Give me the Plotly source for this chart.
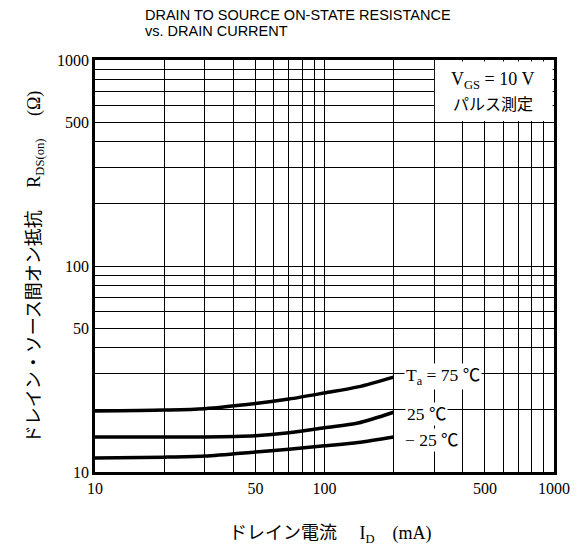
import math
import plotly.graph_objects as go

# ---- data ----
current_ma = [10, 20, 30, 50, 70, 100, 140, 200]
r_ta75 = [19.8, 20.0, 20.3, 21.5, 22.6, 24.2, 25.9, 28.9]
r_ta25 = [14.8, 14.8, 14.8, 15.0, 15.5, 16.4, 17.3, 19.5]
r_tam25 = [11.7, 11.8, 11.95, 12.5, 12.9, 13.4, 13.9, 14.8]

x_grid = [10, 20, 30, 40, 50, 60, 70, 80, 90, 100, 200, 300, 400, 500, 600, 700, 800, 900, 1000]
y_grid = [10, 20, 30, 40, 50, 60, 70, 80, 90, 100, 200, 300, 400, 500, 600, 700, 800, 900, 1000]
x_labeled = [10, 50, 100, 500, 1000]
y_labeled = [10, 50, 100, 500, 1000]

x_minor = [v for v in x_grid if v not in x_labeled]
y_minor = [v for v in y_grid if v not in y_labeled]

SERIF = "Liberation Serif, Noto Serif CJK JP, Noto Sans CJK JP, serif"
CJK = "Liberation Serif, Noto Sans CJK JP, serif"

fig = go.Figure()
for ys in (r_ta75, r_ta25, r_tam25):
    fig.add_trace(go.Scatter(
        x=current_ma, y=ys, mode="lines",
        line=dict(color="black", width=3.5, shape="spline", smoothing=0.8),
        showlegend=False, hoverinfo="skip"))

GW = 1.4
axis_common = dict(
    type="log", range=[1, 3], showgrid=True, gridcolor="black", gridwidth=GW,
    showline=True, linecolor="black", linewidth=2.5, mirror=True,
    ticks="", zeroline=False,
    tickfont=dict(family=SERIF, size=16, color="black"),
)
fig.update_xaxes(tickvals=x_labeled, ticktext=[str(v) for v in x_labeled],
                 minor=dict(tickvals=x_minor, showgrid=True, gridcolor="black", gridwidth=GW, ticks=""),
                 **axis_common)
fig.update_yaxes(tickvals=y_labeled, ticktext=[str(v) for v in y_labeled],
                 minor=dict(tickvals=y_minor, showgrid=True, gridcolor="black", gridwidth=GW, ticks=""),
                 **axis_common)

W, H = 583, 551
ML, MT, MR, MB = 87, 52, 37, 87
PW, PH = W - ML - MR, H - MT - MB

def px(v):  # fraction of x axis for a data value
    return (math.log10(v) - 1) / 2

def py(v):
    return (math.log10(v) - 1) / 2

ex, ey = 0.9 / PW, 0.9 / PH
# white box for the conditions (covers grid in top-right)
fig.add_shape(type="rect", xref="paper", yref="paper",
              x0=px(300) + ex, x1=1 - 1.4 / PW, y0=py(500) + ey, y1=1 - 1.4 / PH,
              fillcolor="white", line=dict(width=0), layer="above")

ann = []
TF = dict(family="Liberation Sans Narrow, Liberation Sans, Arial", size=14.5, color="black")
ann.append(dict(text="DRAIN TO SOURCE ON-STATE RESISTANCE", x=0.1046, y=1.109,
                xref="paper", yref="paper", xanchor="left", yanchor="middle", showarrow=False, font=TF))
ann.append(dict(text="vs. DRAIN CURRENT", x=0.1046, y=1.070,
                xref="paper", yref="paper", xanchor="left", yanchor="middle", showarrow=False, font=TF))
ann.append(dict(text="ドレイン・ソース間オン抵抗　 R<sub>DS(on)</sub>　 (Ω)", x=-0.1307, y=0.497,
                xref="paper", yref="paper", xanchor="center", yanchor="middle", showarrow=False,
                textangle=-90, font=dict(family=CJK, size=18, color="black")))
ann.append(dict(text="ドレイン電流　 I<sub>D</sub>　(mA)", x=0.512, y=-0.152,
                xref="paper", yref="paper", xanchor="center", yanchor="middle", showarrow=False,
                font=dict(family=CJK, size=18, color="black")))
ann.append(dict(text="V<sub>GS</sub> = 10 V", x=0.867, y=0.951,
                xref="paper", yref="paper", xanchor="center", yanchor="middle", showarrow=False,
                font=dict(family=CJK, size=18, color="black")))
ann.append(dict(text="パルス測定", x=0.867, y=0.893,
                xref="paper", yref="paper", xanchor="center", yanchor="middle", showarrow=False,
                font=dict(family=CJK, size=16, color="black")))
for txt, xx, yy in (("T<sub>a</sub> = 75 ℃", 0.673, 0.2306),
                    ("25 ℃", 0.675, 0.140),
                    ("− 25 ℃", 0.671, 0.0777)):
    ann.append(dict(text=txt, x=xx, y=yy, xref="paper", yref="paper",
                    xanchor="left", yanchor="middle", showarrow=False,
                    bgcolor="white", borderpad=1,
                    font=dict(family=CJK, size=17.5, color="black")))

fig.update_layout(
    width=W, height=H,
    margin=dict(l=ML, r=MR, t=MT, b=MB),
    paper_bgcolor="white", plot_bgcolor="white",
    annotations=ann,
)
fig.write_html("out.html")
